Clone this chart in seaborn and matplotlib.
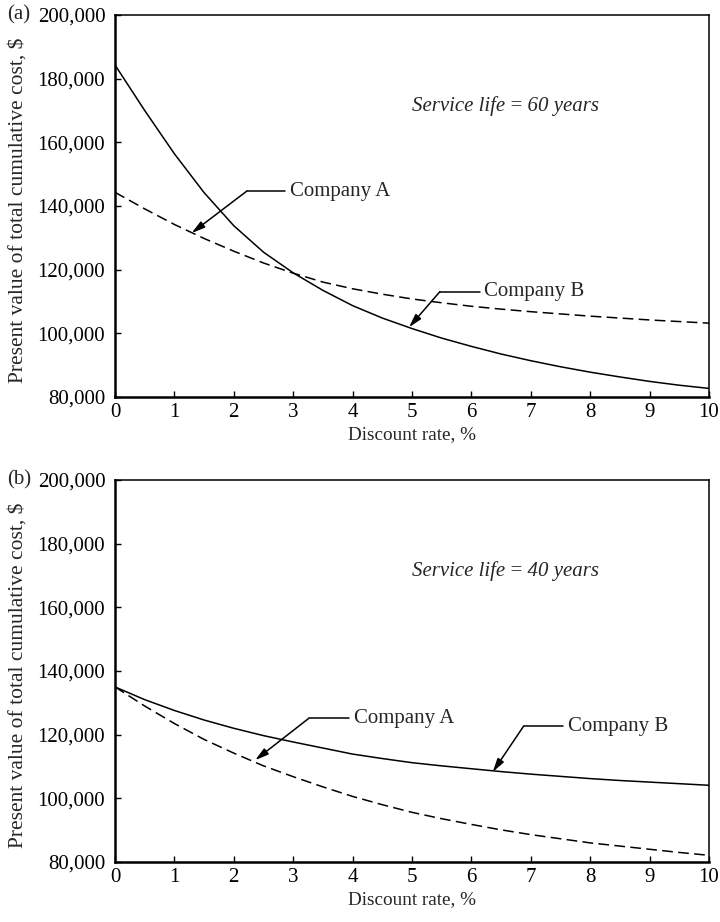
import pandas as pd
import seaborn as sns
import matplotlib.pyplot as plt
from matplotlib.ticker import FuncFormatter

# discount rate, %
rate = [0, 0.5, 1, 1.5, 2, 2.5, 3, 3.5, 4, 4.5, 5, 5.5, 6, 6.5, 7, 7.5, 8, 8.5, 9, 9.5, 10]

# (a) service life 60 years, present value in $
a_solid = [184300, 170000, 156400, 144200, 133800, 125500, 119000, 113500, 108700, 104800, 101500,
           98500, 95900, 93500, 91400, 89500, 87800, 86300, 84900, 83700, 82700]
a_dashed = [144300, 139100, 134200, 129800, 125800, 122100, 118900, 116100, 114000, 112300, 110800,
            109600, 108500, 107600, 106800, 106100, 105400, 104800, 104200, 103700, 103200]

# (b) service life 40 years
b_solid = [135000, 131000, 127600, 124600, 122000, 119700, 117700, 115800, 113900, 112500, 111200,
           110200, 109300, 108400, 107600, 106900, 106200, 105600, 105100, 104600, 104100]
b_dashed = [135000, 129000, 123500, 118500, 114200, 110200, 106800, 103600, 100600, 98000, 95600,
            93600, 91800, 90100, 88600, 87300, 86000, 85000, 84000, 83000, 82100]

panels = ["(a)", "(b)"]
notes = ["Service life\u2009=\u200960 years", "Service life\u2009=\u200940 years"]

# label text, text position, corner of leader, arrow tip
labels_a = [("Company A", (2.95, 144700), (2.22, 144700), (1.29, 131500)),
            ("Company B", (6.22, 113100), (5.47, 113100), (4.95, 101900))]
labels_b = [("Company A", (4.02, 125100), (3.26, 125100), (2.36, 112000)),
            ("Company B", (7.63, 122700), (6.88, 122700), (6.36, 108300))]

sns.set_style("ticks")
plt.rcParams['font.family'] = ['Liberation Serif', 'DejaVu Serif']

fig = plt.figure(figsize=(7.2, 9.22), dpi=100)
ax_a = fig.add_axes([115 / 720, 1 - 397 / 922, 594 / 720, 382 / 922])
ax_b = fig.add_axes([115 / 720, 1 - 862 / 922, 594 / 720, 382 / 922])

data = [(ax_a, a_solid, a_dashed, labels_a), (ax_b, b_solid, b_dashed, labels_b)]
tops = [15, 480]

fs = 15
for i, (ax, solid, dashed, labels) in enumerate(data):
    df = pd.DataFrame({"rate": rate, "solid": solid, "dashed": dashed})
    sns.lineplot(data=df, x="rate", y="solid", ax=ax, color="black", lw=1.1)
    sns.lineplot(data=df, x="rate", y="dashed", ax=ax, color="black", lw=1.1)
    ax.lines[-1].set_dashes((7, 3.5))

    ax.set_xlim(0, 10)
    ax.set_ylim(80000, 200000)
    ax.set_xticks(range(0, 11))
    ax.set_yticks(range(80000, 200001, 20000))
    ax.yaxis.set_major_formatter(FuncFormatter(lambda v, p: f"{int(v):,}"))
    ax.tick_params(direction="in", length=4, width=1, labelsize=fs, pad=7, colors="black")
    ax.tick_params(axis="x", pad=4)
    for s in ["left", "bottom"]:
        ax.spines[s].set_linewidth(1.8)
    for s in ["top", "right"]:
        ax.spines[s].set_linewidth(1.1)
    for s in ax.spines.values():
        s.set_color("black")

    ax.set_xlabel("Discount rate, %", fontsize=13.8, labelpad=3)
    ax.set_ylabel("Present value of total cumulative cost, $", fontsize=15.5)
    ax.yaxis.set_label_coords(-0.148, 0.49)

    ax.text(6.58, 171500, notes[i], fontsize=fs, style="italic", ha="center", va="center")
    fig.text(7 / 720, 1 - tops[i] / 922, panels[i], fontsize=fs, ha="left", va="center")

    for name, txt, corner, tip in labels:
        ax.text(txt[0], txt[1], name, fontsize=fs, ha="left", va="center")
        ax.plot([corner[0], txt[0] - 0.08], [corner[1], txt[1]], color="black", lw=1.1)
        ax.annotate("", xy=tip, xytext=corner,
                    arrowprops=dict(arrowstyle="-|>,head_length=0.8,head_width=0.22",
                                    color="black", lw=1.1, shrinkA=0, shrinkB=0))

fig.savefig("out.png", dpi=100)
